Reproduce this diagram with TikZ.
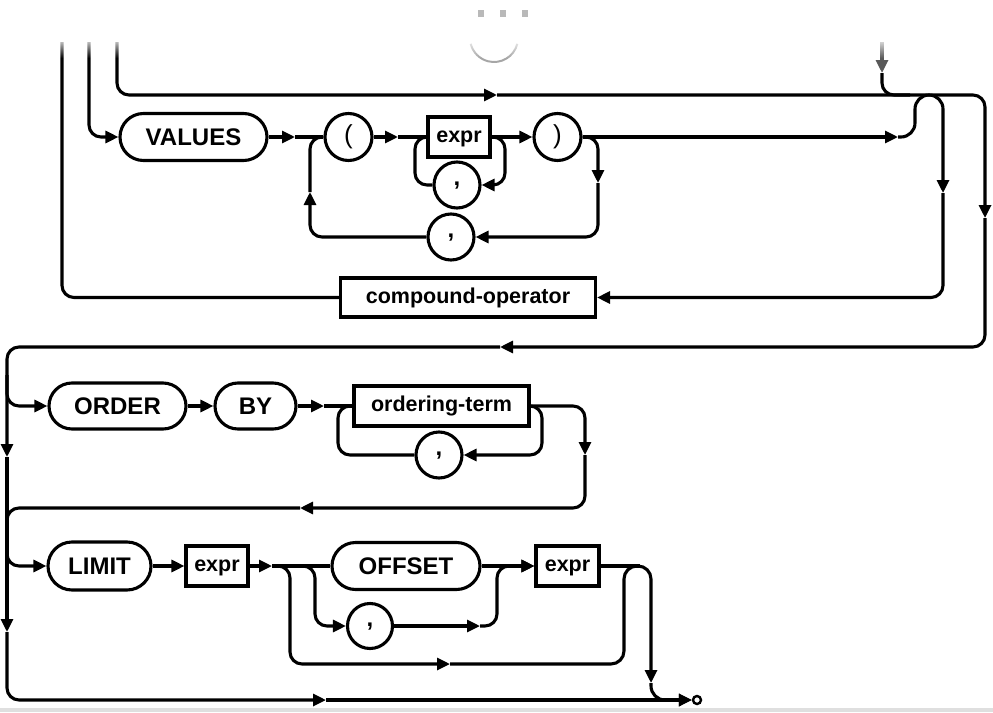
\documentclass[tikz,border=0pt]{standalone}
\usepackage{fontspec}
\setmainfont{Liberation Sans}
\usetikzlibrary{arrows.meta,shapes.misc,fadings}
\tikzfading[name=topfade, top color=transparent!0, bottom color=transparent!100]
\begin{document}
\begin{tikzpicture}[x=1pt,y=-1pt,
  rail/.style={line width=3.1pt, rounded corners=12pt},
  arr/.style={rail, -{Triangle[length=13pt,width=12pt]}},
  kw/.style={draw, line width=3.1pt, rounded rectangle, minimum height=47pt, inner sep=0pt, font=\fontsize{24}{28}\selectfont\bfseries},
  prodbox/.style={draw, line width=3.1pt, rectangle, minimum height=40pt, inner sep=0pt, text height=11.5pt, text depth=0pt, font=\fontsize{21.5}{25}\selectfont\bfseries},
  punct/.style={draw, line width=3.1pt, circle, minimum size=47pt, inner sep=0pt, font=\fontsize{26}{30}\selectfont},
  commac/.style={punct, font=\fontsize{24}{28}\selectfont\bfseries},
]
\useasboundingbox (0,0) rectangle (993,712);

% nodes
\node[kw, minimum width=147pt] (values) at (193.5,137) {VALUES};
\node[punct] (lp) at (348.5,137) {(};
\node[prodbox, minimum width=62pt] (expr1) at (459,137) {expr};
\node[punct] (rp) at (557.5,137) {)};
\node[commac, minimum size=46pt] (c1) at (457,185) {\raisebox{-4pt}{,}};
\node[commac, minimum size=46pt] (c2) at (451,237) {\raisebox{-4pt}{,}};
\node[prodbox, minimum width=255pt, minimum height=39pt] (comp) at (468,297.5) {compound-operator};

\node[kw, minimum width=137pt, minimum height=46pt] (order) at (117.5,406) {ORDER};
\node[kw, minimum width=81pt, minimum height=46pt] (by) at (255.5,406) {BY};
\node[prodbox, minimum width=175pt] (oterm) at (441.5,406) {ordering-term};
\node[commac, minimum size=46pt] (c3) at (439,455) {\raisebox{-4pt}{,}};

\node[kw, minimum width=103pt, minimum height=48pt] (limit) at (99.5,566) {LIMIT};
\node[prodbox, minimum width=62pt] (expr2) at (217,566) {expr};
\node[kw, minimum width=148pt] (offset) at (406,566) {OFFSET};
\node[commac, minimum size=45pt] (c4) at (370,626) {\raisebox{-4pt}{,}};
\node[prodbox, minimum width=63pt] (expr3) at (567.5,566) {expr};
\node[draw, circle, line width=2.4pt, minimum size=8pt, inner sep=0pt] (endc) at (697,700) {};

% coordinates
\coordinate (s1) at (62,42);
\coordinate (s2) at (89,42);
\coordinate (s3) at (117,42);
\coordinate (s4) at (882,42);
\coordinate (a1) at (497,95);
\coordinate (a2) at (882,73);
\coordinate (a4) at (295,137);
\coordinate (a5) at (398,137);
\coordinate (a7) at (310,192);
\coordinate (a9) at (598,183);
\coordinate (a11) at (898,137);
\coordinate (a12) at (943,193);
\coordinate (a14) at (985,218);
\coordinate (a15) at (500,347);
\coordinate (a18) at (324,406);
\coordinate (a20) at (585,455);
\coordinate (a21) at (300,508);
\coordinate (a22) at (7,457);
\coordinate (a25) at (272,566);
\coordinate (a27) at (480,626);
\coordinate (a29) at (450,664);
\coordinate (a30) at (651,683);
\coordinate (a31) at (7,632);
\coordinate (a32) at (326,700);
\coordinate (b1) at (7,375);
\coordinate (b2) at (7,535);

% top rails
\draw[rail] (s1) |- (comp.west);
\draw[arr] (s2) |- (values.west);
\draw[arr] (s3) |- (a1);
\draw[arr] (a1) -| (a14);
\draw[arr] (a14) |- (a15);
\draw[arr] (a15) -| (a22);
\draw[arr] (a22) -- (a31);
\draw[arr] (a31) |- (a32);
\draw[arr] (a32) -- (endc.west);
\draw[arr, black!65] (s4) -- (a2);
\draw[rail] (a2) |- (910,95);

% VALUES row
\draw[arr] (values.east) -- (a4);
\draw[rail] (a4) -- (lp.west);
\draw[arr] (c2.west) -| (a7);
\draw[rail] (a7) |- (lp.west);
\draw[arr] (lp.east) -- (a5);
\draw[rail] (a5) -- (expr1.west);
\draw[rail] (c1.west) -| (415,137) -- (expr1.west);
\draw[arr] (expr1.east) -- (rp.west);
\draw[arr] (expr1.east) -- (505,137) |- (c1.east);
\draw[arr] (rp.east) -- (a11);
\draw[arr] (rp.east) -| (a9);
\draw[arr] (a9) |- (c2.east);
\draw[arr, rounded corners=14pt] (a11) -| (915,95) -| (a12);
\draw[arr] (a12) |- (comp.east);

% ORDER BY row
\draw[arr] (b1) |- (order.west);
\draw[arr] (order.east) -- (by.west);
\draw[arr] (by.east) -- (a18);
\draw[rail] (a18) -- (oterm.west);
\draw[rail] (c3.west) -| (338,406) -- (oterm.west);
\draw[arr] (oterm.east) -- (542,406) |- (c3.east);
\draw[arr] (oterm.east) -| (a20);
\draw[arr] (a20) |- (a21);
\draw[rail] (a21) -| (b2);

% LIMIT row
\draw[arr] (b2) |- (limit.west);
\draw[arr] (limit.east) -- (expr2.west);
\draw[arr] (expr2.east) -- (a25);
\draw[rail] (a25) -- (offset.west);
\draw[arr] (a25) -| (315,626) -- (c4.west);
\draw[arr] (a25) -| (290,664) -- (a29);
\draw[arr] (c4.east) -- (a27);
\draw[arr] (a27) -| (497,566) -- (expr3.west);
\draw[arr] (offset.east) -- (expr3.west);
\draw[rail] (expr3.east) -- (640,566);
\draw[arr, rounded corners=13pt] (a29) -| (624,566) -| (a30);
\draw[arr, rounded corners=14pt] (a30) |- (endc.west);

% screenshot artefacts
\draw[gray!70, line width=2pt] (494,38) ++(14:24) arc[start angle=14, end angle=166, radius=24];
\fill[white, path fading=topfade] (0,36) rectangle (993,58);
\fill[gray!55] (478,10) rectangle (484,17);
\fill[gray!55] (500,10) rectangle (506,17);
\fill[gray!55] (522,10) rectangle (528,17);
\fill[gray!25] (0,708) rectangle (993,712);
\end{tikzpicture}
\end{document}
